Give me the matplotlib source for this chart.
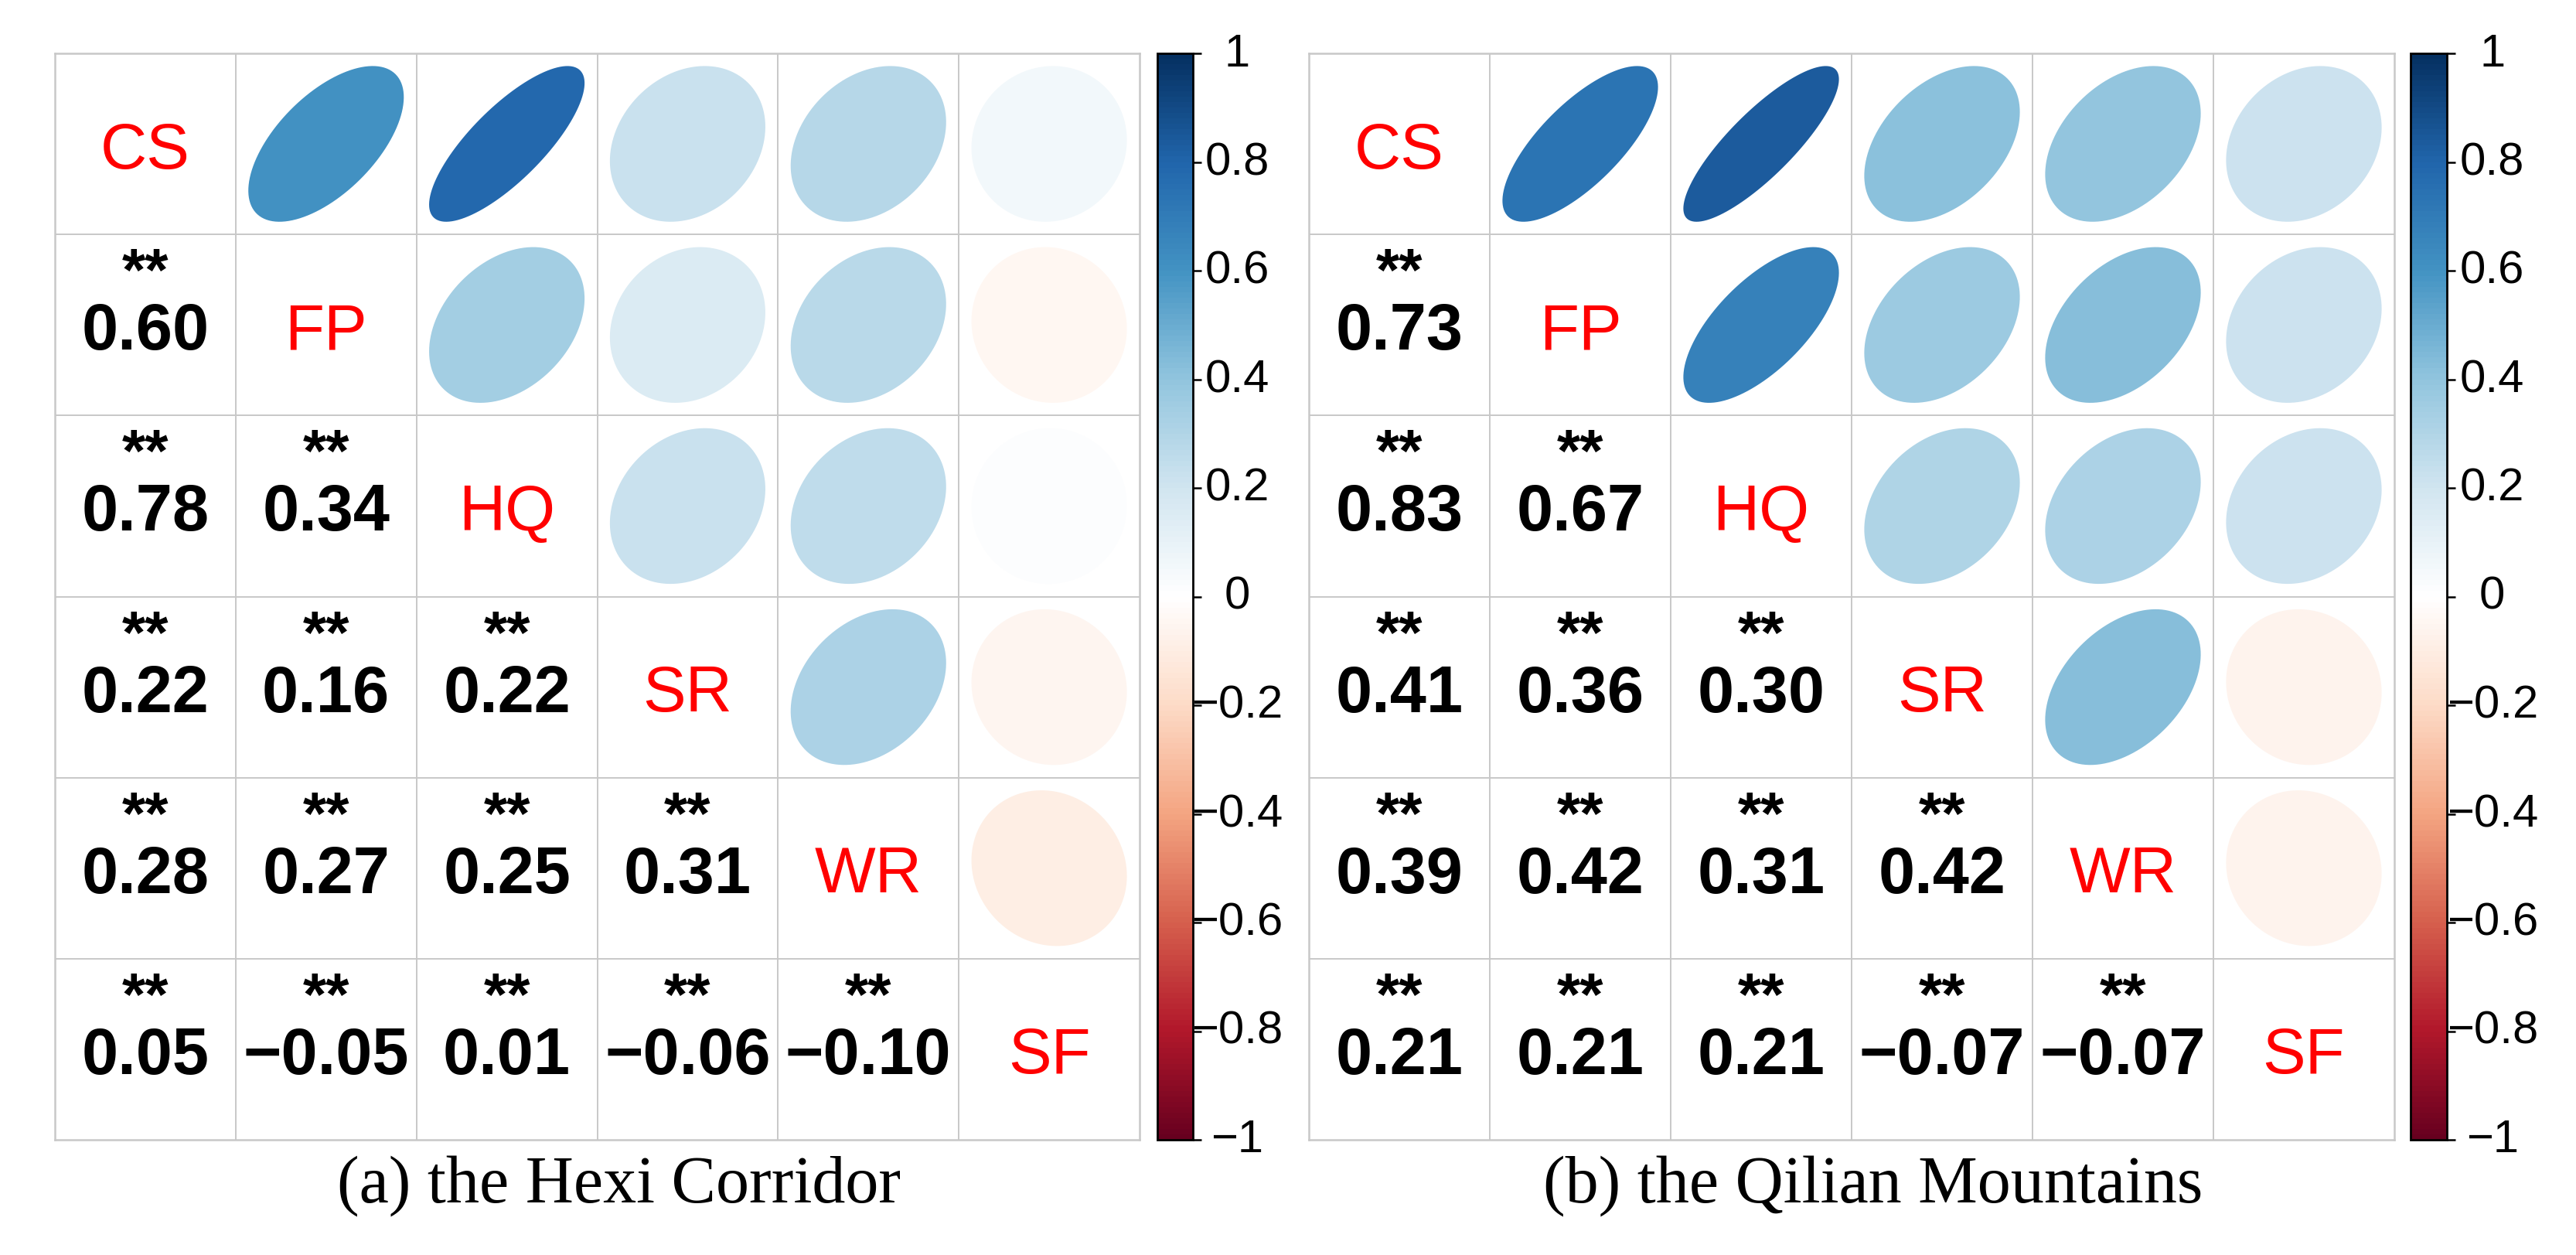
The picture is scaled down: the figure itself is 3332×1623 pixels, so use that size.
import numpy as np
import matplotlib
matplotlib.use('Agg')
import matplotlib.pyplot as plt
from matplotlib.colors import LinearSegmentedColormap, Normalize
from matplotlib.patches import Polygon
from matplotlib.cm import ScalarMappable

# variables and lower-triangle correlations (row i, col j<i)
labels = ['CS', 'FP', 'HQ', 'SR', 'WR', 'SF']

hexi_lower = [
    [],
    [0.60],
    [0.78, 0.34],
    [0.22, 0.16, 0.22],
    [0.28, 0.27, 0.25, 0.31],
    [0.05, -0.05, 0.01, -0.06, -0.10],
]
qilian_lower = [
    [],
    [0.73],
    [0.83, 0.67],
    [0.41, 0.36, 0.30],
    [0.39, 0.42, 0.31, 0.42],
    [0.21, 0.21, 0.21, -0.07, -0.07],
]
captions = ['(a) the Hexi Corridor', '(b) the Qilian Mountains']
cbar_ticks = [-1, -0.8, -0.6, -0.4, -0.2, 0, 0.2, 0.4, 0.6, 0.8, 1]
cbar_ticklabels = ['\u22121', '\u22120.8', '\u22120.6', '\u22120.4', '\u22120.2', '0',
                   '0.2', '0.4', '0.6', '0.8', '1']

# corrplot RdBu palette
col2 = ["#67001F", "#B2182B", "#D6604D", "#F4A582", "#FDDBC7", "#FFFFFF",
        "#D1E5F0", "#92C5DE", "#4393C3", "#2166AC", "#053061"]
cmap = LinearSegmentedColormap.from_list('corrRdBu', col2, N=200)
norm = Normalize(-1, 1)

W, H = 3332, 1624
fig = plt.figure(figsize=(W / 100, H / 100), dpi=100)

sans = ['Liberation Sans', 'DejaVu Sans']
serif = ['Liberation Serif', 'DejaVu Serif']
gridcol = '#c8c8c8'


def full_matrix(lower):
    n = len(labels)
    m = np.eye(n)
    for i in range(n):
        for j in range(i):
            m[i, j] = lower[i][j]
            m[j, i] = lower[i][j]
    return m


def ellipse_pts(r, scale=0.86, npts=120):
    k = np.linspace(0, 2 * np.pi, npts)
    a = np.arccos(r)
    x = scale * np.cos(k + a / 2) / 2
    y = scale * np.cos(k - a / 2) / 2
    return x, y


# pixel layout of each panel: grid left, grid right, colorbar left, colorbar right
panels = [(71, 1474, 1497, 1543), (1693, 3097, 3118, 3165)]
top_px, bot_px = 70, 1475

for ip, lower in enumerate([hexi_lower, qilian_lower]):
    gl, gr, cl, cr = panels[ip]
    M = full_matrix(lower)
    n = len(labels)

    ax = fig.add_axes([gl / W, 1 - bot_px / H, (gr - gl) / W, (bot_px - top_px) / H])
    ax.set_xlim(0, n)
    ax.set_ylim(n, 0)
    ax.set_xticks([])
    ax.set_yticks([])
    for s in ax.spines.values():
        s.set_color(gridcol)
        s.set_linewidth(1.8)
    for k in range(1, n):
        ax.axvline(k, color=gridcol, lw=1.4, zorder=1)
        ax.axhline(k, color=gridcol, lw=1.4, zorder=1)

    for i in range(n):
        for j in range(n):
            r = M[i, j]
            if i == j:
                ax.text(j + 0.5, i + 0.5, labels[i], color='red', fontsize=60,
                        family=sans, ha='center', va='center_baseline', zorder=3)
            elif j > i:
                ex, ey = ellipse_pts(r)
                poly = Polygon(np.column_stack([j + 0.5 + ex, i + 0.5 - ey]),
                               closed=True, facecolor=cmap(norm(r)), edgecolor='none', zorder=2)
                ax.add_patch(poly)
            else:
                txt = '%.2f' % r
                txt = txt.replace('-', '\u2212')
                ax.text(j + 0.5, i + 0.5, txt, color='black', fontsize=61, fontweight='bold',
                        family=sans, ha='center', va='center_baseline', zorder=3)
                ax.text(j + 0.5, i + 0.5 - 0.28, '**', color='black', fontsize=56, fontweight='bold',
                        family=sans, ha='center', va='center', zorder=3)

    # colorbar
    cax = fig.add_axes([cl / W, 1 - bot_px / H, (cr - cl) / W, (bot_px - top_px) / H])
    cb = fig.colorbar(ScalarMappable(norm=norm, cmap=cmap), cax=cax)
    cb.outline.set_edgecolor('black')
    cb.outline.set_linewidth(2.0)
    cax.set_yticks(cbar_ticks)
    cax.set_yticklabels([])
    cax.tick_params(axis='y', length=8, width=1.8, color='black', direction='out')
    for t, lab in zip(cbar_ticks, cbar_ticklabels):
        cax.text(2.25, t, lab, transform=cax.get_yaxis_transform(), fontsize=43,
                 family=sans, ha='center', va='center')

    fig.text((gl + 730) / W, 1 - 1555 / H, captions[ip], fontsize=62, family=serif,
             ha='center', va='baseline')

fig.savefig('out.png', dpi=100, facecolor='white')
